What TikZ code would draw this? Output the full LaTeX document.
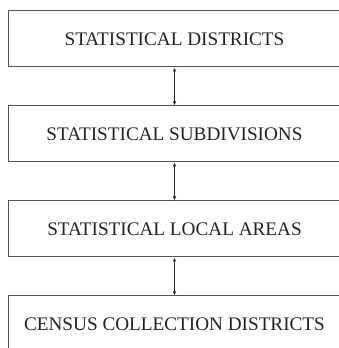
\documentclass[tikz,border=0pt]{standalone}
\usepackage{fontspec}
\setmainfont{Liberation Serif}
\usetikzlibrary{positioning}
\usetikzlibrary{arrows.meta}
\definecolor{box-grey}{RGB}{85, 85, 85}
\definecolor{text-grey}{RGB}{35, 35, 35}

\begin{document}
\begin{tikzpicture}[x=1pt, y=1pt,
        level/.style={draw=box-grey, line width=1pt, minimum width=333pt, minimum height=56pt, inner sep=0pt, text=text-grey, font=\fontsize{19.2}{22}\selectfont},
        link/.style={{Latex[length=4pt, width=3.5pt]}-{Latex[length=4pt, width=3.5pt]}, line width=1.9pt, draw=black!85}]
                \useasboundingbox (0, 0) rectangle (339, 348);
                \clip (0, 0) rectangle (339, 348);
                \node[level] (districts) at (174.5, 309) {STATISTICAL DISTRICTS};
                \node[level, below=38pt of districts] (subdivisions) {STATISTICAL SUBDIVISIONS};
                \node[level, below=38pt of subdivisions] (localareas) {STATISTICAL LOCAL AREAS};
                \node[level, below=38pt of localareas] (collection) {CENSUS COLLECTION DISTRICTS};
                \draw[link] (districts) -- (subdivisions);
                \draw[link] (subdivisions) -- (localareas);
                \draw[link] (localareas) -- (collection);
            \end{tikzpicture}
\end{document}
